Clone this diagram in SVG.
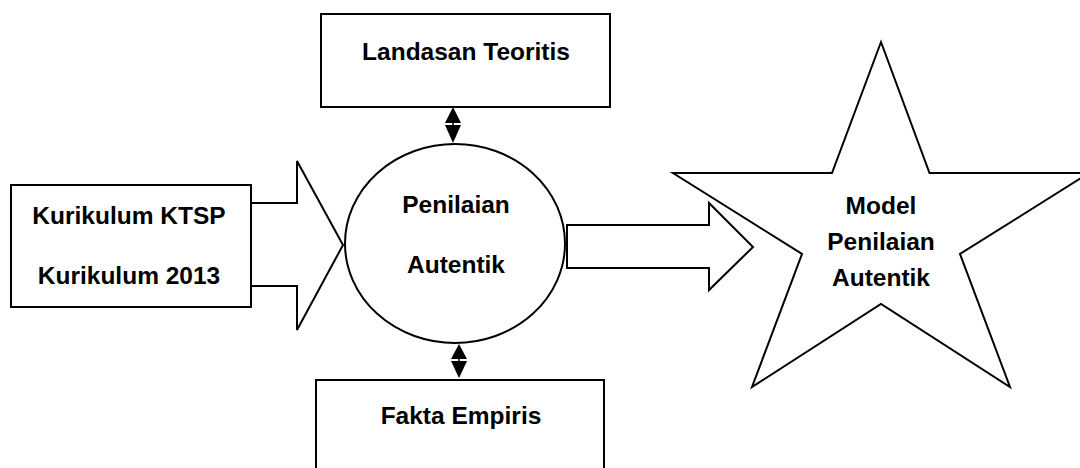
<svg xmlns="http://www.w3.org/2000/svg" width="1080" height="468" viewBox="0 0 1080 468">
<style>
.shape{fill:#fff;stroke:#000;stroke-width:2;stroke-linejoin:miter}
.head{fill:#000;stroke:none}
.lbl{font-family:"Liberation Sans",Arial,sans-serif;font-weight:bold;font-size:24.5px;fill:#000;text-anchor:middle}
</style>
<rect width="1080" height="468" fill="#fff"/>
<g id="connectors">
  <polygon class="shape" points="251,203 297,203 297,161 343,245 297,330 297,286 251,286"/>
  <polygon class="shape" points="567,225 709,225 709,203 753,247 709,290 709,268 567,268"/>
  <g id="arrow-top">
    <polygon class="head" points="453,107 445,123 461,123"/>
    <polygon class="head" points="445,125 461,125 453,143"/>
    <line x1="453" y1="122" x2="453" y2="126" stroke="#000" stroke-width="1.5"/>
  </g>
  <g id="arrow-bottom">
    <polygon class="head" points="459,344 451,359 467,359"/>
    <polygon class="head" points="451,361 467,361 459,378"/>
    <line x1="459" y1="358" x2="459" y2="362" stroke="#000" stroke-width="1.5"/>
  </g>
</g>
<g id="kurikulum">
  <rect class="shape" x="11" y="185" width="240" height="122"/>
  <text class="lbl" x="129" y="224">Kurikulum KTSP</text>
  <text class="lbl" x="129" y="284">Kurikulum 2013</text>
</g>
<g id="landasan">
  <rect class="shape" x="321" y="14" width="289" height="93"/>
  <text class="lbl" x="466" y="60">Landasan Teoritis</text>
</g>
<g id="penilaian">
  <ellipse class="shape" cx="455" cy="243.5" rx="110" ry="99.5"/>
  <text class="lbl" x="456" y="213">Penilaian</text>
  <text class="lbl" x="456" y="273">Autentik</text>
</g>
<g id="fakta">
  <rect class="shape" x="316" y="380" width="288" height="100"/>
  <text class="lbl" x="461" y="424">Fakta Empiris</text>
</g>
<g id="model">
  <polygon class="shape" points="881,42 929.5,173 1089,173 960,254 1010,387 881,304 752,387 802,254 673,173 832,173"/>
  <text class="lbl" x="881" y="214">Model</text>
  <text class="lbl" x="881" y="250">Penilaian</text>
  <text class="lbl" x="881" y="286">Autentik</text>
</g>
</svg>
